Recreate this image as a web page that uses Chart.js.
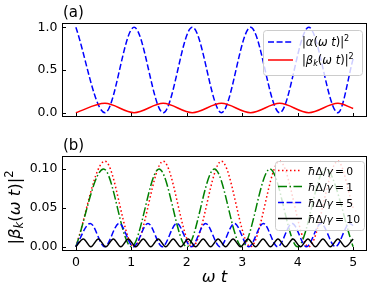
<!DOCTYPE html>
<html>
<head>
<meta charset="utf-8">
<script src="https://cdn.jsdelivr.net/npm/chart.js@4"></script>
<style>
  html, body { margin: 0; padding: 0; background: #fff; }
  #wrap { position: relative; width: 374px; height: 293px; }
  #c1 { position: absolute; left: 0; top: 0; }
  #c2 { position: absolute; left: 0; top: 130px; }
</style>
</head>
<body>
<div id="wrap">
  <canvas id="c1" width="374" height="130"></canvas>
  <canvas id="c2" width="374" height="163"></canvas>
</div>
<script>
// panel (a): |alpha|^2 and |beta_k|^2, read at the extrema
const tA = [0, 0.525, 1.05, 1.575, 2.1, 2.625, 3.15, 3.675, 4.2, 4.725, 5];
const alphaSq = [1, 0, 1, 0, 1, 0, 1, 0, 1, 0, 0.63];
const betaSq = [0, 0.11, 0, 0.11, 0, 0.11, 0, 0.11, 0, 0.11, 0.05];

// panel (b): |beta_k|^2 for hbar*Delta/gamma = 0, 1, 5, 10
const tD0 = [0, 0.525, 1.05, 1.575, 2.1, 2.625, 3.15, 3.675, 4.2, 4.725, 5];
const bD0 = [0, 0.11, 0, 0.11, 0, 0.11, 0, 0.11, 0, 0.11, 0.05];
const tD1 = [0, 0.5, 1, 1.5, 2, 2.5, 3, 3.5, 4, 4.5, 5];
const bD1 = [0, 0.1, 0, 0.1, 0, 0.1, 0, 0.1, 0, 0.1, 0];
const tD5 = [0, 0.26, 0.52, 0.78, 1.04, 1.3, 1.56, 1.82, 2.08, 2.34, 2.6, 2.86, 3.12, 3.38, 3.64, 3.9, 4.16, 4.42, 4.68, 4.94, 5];
const bD5 = [0, 0.03, 0, 0.03, 0, 0.03, 0, 0.03, 0, 0.03, 0, 0.03, 0, 0.03, 0, 0.03, 0, 0.03, 0, 0.03, 0.027];
const tD10 = [0, 0.135, 0.27, 0.405, 0.54, 0.675, 0.81, 0.945, 1.08, 1.215, 1.35, 1.485, 1.62, 1.755, 1.89, 2.025,
  2.16, 2.295, 2.43, 2.565, 2.7, 2.835, 2.97, 3.105, 3.24, 3.375, 3.51, 3.645, 3.78, 3.915, 4.05, 4.185,
  4.32, 4.455, 4.59, 4.725, 4.86, 5];
const bD10 = [0, 0.01, 0, 0.01, 0, 0.01, 0, 0.01, 0, 0.01, 0, 0.01, 0, 0.01, 0, 0.01,
  0, 0.01, 0, 0.01, 0, 0.01, 0, 0.01, 0, 0.01, 0, 0.01, 0, 0.01, 0, 0.01,
  0, 0.01, 0, 0.01, 0, 0.01];

const xTicks = [0, 1, 2, 3, 4, 5];
const yTicksA = [0, 0.5, 1.0];
const yTicksB = [0, 0.05, 0.10];

const FONT = '"DejaVu Sans"';

function pts(ts, ys) {
  return ts.map((t, i) => ({ x: t, y: ys[i] }));
}

// small helper to write matplotlib-like mathtext: [text, style]
function mathText(ctx, parts, x, y, size, align) {
  const fontOf = p => {
    const small = p[1] === 'sup' || p[1] === 'sub';
    const it = (p[1] === 'i' || p[1] === 'sub') ? 'italic ' : '';
    return it + (small ? size * 0.7 : size) + 'px ' + FONT;
  };
  let w = 0;
  parts.forEach(p => { ctx.font = fontOf(p); w += ctx.measureText(p[0]).width; });
  let cx = align === 'center' ? x - w / 2 : (align === 'right' ? x - w : x);
  ctx.textAlign = 'left';
  ctx.textBaseline = 'alphabetic';
  parts.forEach(p => {
    ctx.font = fontOf(p);
    const dy = p[1] === 'sup' ? -size * 0.42 : (p[1] === 'sub' ? size * 0.2 : 0);
    ctx.fillText(p[0], cx, y + dy);
    cx += ctx.measureText(p[0]).width;
  });
}

const labAlpha = [['|', 'n'], ['α', 'i'], ['(', 'n'], ['ω', 'i'], [' ', 'n'], ['t', 'i'], [')', 'n'], ['|', 'n'], ['2', 'sup']];
const labBeta = [['|', 'n'], ['β', 'i'], ['k', 'sub'], ['(', 'n'], ['ω', 'i'], [' ', 'n'], ['t', 'i'], [')', 'n'], ['|', 'n'], ['2', 'sup']];
const labDelta = v => [['ħ', 'i'], ['Δ', 'n'], ['/', 'n'], ['γ', 'i'], ['\u2009=\u2009', 'n'], [v, 'n']];

const framePlugin = {
  id: 'frame',
  afterDatasetsDraw(chart, args, opts) {
    const { ctx, chartArea: a, scales: { x, y } } = chart;
    ctx.save();
    ctx.strokeStyle = '#000';
    ctx.lineWidth = 1;
    ctx.setLineDash([]);
    ctx.strokeRect(a.left + 0.5, a.top + 0.5, a.right - a.left - 1, a.bottom - a.top - 1);
    ctx.beginPath();
    xTicks.forEach(v => {
      const px = Math.round(x.getPixelForValue(v)) + 0.5;
      ctx.moveTo(px, a.bottom); ctx.lineTo(px, a.bottom - 4);
    });
    opts.yTicks.forEach(v => {
      const py = Math.round(y.getPixelForValue(v)) + 0.5;
      ctx.moveTo(a.left, py); ctx.lineTo(a.left + 4, py);
    });
    ctx.stroke();

    // panel letter
    ctx.fillStyle = '#000';
    ctx.font = '15px ' + FONT;
    ctx.textAlign = 'left';
    ctx.textBaseline = 'alphabetic';
    ctx.fillText(opts.panel, a.left + 1, a.top - 6);

    // legend
    const L = opts.legend;
    ctx.beginPath();
    ctx.roundRect(L.x + 0.5, L.y + 0.5, L.w, L.h, 3);
    ctx.fillStyle = 'rgba(255,255,255,0.8)';
    ctx.fill();
    ctx.strokeStyle = '#cccccc';
    ctx.stroke();
    L.items.forEach((it, i) => {
      const ds = chart.data.datasets[it.ds];
      const ry = L.y + L.row0 + i * L.step;
      ctx.beginPath();
      ctx.strokeStyle = ds.borderColor;
      ctx.lineWidth = ds.borderWidth;
      ctx.setLineDash(ds.borderDash || []);
      ctx.moveTo(L.x + L.s0, ry); ctx.lineTo(L.x + L.s1, ry);
      ctx.stroke();
      ctx.setLineDash([]);
      ctx.fillStyle = '#000';
      mathText(ctx, it.label, L.x + L.tx, ry + 4, L.fs, 'left');
    });

    // axis titles (bottom panel only)
    if (opts.titles) {
      ctx.fillStyle = '#000';
      mathText(ctx, [['ω', 'i'], [' ', 'n'], ['t', 'i']], (a.left + a.right) / 2, 152, 16.5, 'center');
      ctx.save();
      ctx.translate(14, (a.top + a.bottom) / 2 + 4);
      ctx.rotate(-Math.PI / 2);
      mathText(ctx, labBeta, 0, 6, 16.5, 'center');
      ctx.restore();
    }
    ctx.restore();
  }
};

function lineSet(ts, ys, color, dash, order) {
  return {
    data: pts(ts, ys),
    borderColor: color,
    borderWidth: 1.5,
    borderDash: dash,
    borderCapStyle: 'butt',
    pointRadius: 0,
    fill: false,
    cubicInterpolationMode: 'monotone',
    order: order
  };
}

function yScale(ticks, min, max, digits) {
  return {
    type: 'linear', min: min, max: max,
    afterBuildTicks: s => { s.ticks = ticks.map(v => ({ value: v })); },
    afterFit: s => { s.width = 62; },
    grid: { display: false, drawTicks: false },
    border: { display: false },
    ticks: {
      padding: 4.5, color: '#000',
      font: { family: 'DejaVu Sans', size: 12.5 },
      callback: v => Number(v).toFixed(digits)
    }
  };
}

new Chart(document.getElementById('c1'), {
  type: 'line',
  data: {
    datasets: [
      lineSet(tA, alphaSq, '#0000ff', [6, 2.6], 2),
      lineSet(tA, betaSq, '#ff0000', [], 1)
    ]
  },
  options: {
    responsive: false,
    animation: false,
    layout: { padding: { left: 0, right: 7, top: 23, bottom: 13 } },
    plugins: {
      legend: { display: false },
      tooltip: { enabled: false },
      frame: {
        panel: '(a)', yTicks: yTicksA,
        legend: {
          x: 263, y: 30, w: 99, h: 45, row0: 12, step: 18, s0: 5, s1: 30, tx: 39, fs: 11.5,
          items: [{ ds: 0, label: labAlpha }, { ds: 1, label: labBeta }]
        }
      }
    },
    scales: {
      x: { type: 'linear', min: -0.25, max: 5.25, display: false },
      y: yScale(yTicksA, -0.05, 1.05, 1)
    }
  },
  plugins: [framePlugin]
});

new Chart(document.getElementById('c2'), {
  type: 'line',
  data: {
    datasets: [
      lineSet(tD0, bD0, '#ff0000', [1.5, 2.5], 4),
      lineSet(tD1, bD1, '#008000', [9, 2.5, 1.5, 2.5], 3),
      lineSet(tD5, bD5, '#0000ff', [6, 2.6], 2),
      lineSet(tD10, bD10, '#000000', [], 1)
    ]
  },
  options: {
    responsive: false,
    animation: false,
    layout: { padding: { left: 0, right: 7, top: 26, bottom: 0 } },
    plugins: {
      legend: { display: false },
      tooltip: { enabled: false },
      frame: {
        panel: '(b)', yTicks: yTicksB, titles: true,
        legend: {
          x: 275, y: 31, w: 89, h: 69, row0: 9.5, step: 16, s0: 3, s1: 27, tx: 33, fs: 10.8,
          items: [
            { ds: 0, label: labDelta('0') }, { ds: 1, label: labDelta('1') },
            { ds: 2, label: labDelta('5') }, { ds: 3, label: labDelta('10') }
          ]
        }
      }
    },
    scales: {
      x: {
        type: 'linear', min: -0.25, max: 5.25,
        afterBuildTicks: s => { s.ticks = xTicks.map(v => ({ value: v })); },
        afterFit: s => { s.height = 42; },
        grid: { display: false, drawTicks: false },
        border: { display: false },
        ticks: { padding: 4, color: '#000', maxRotation: 0, font: { family: 'DejaVu Sans', size: 12.5 } }
      },
      y: yScale(yTicksB, -0.0055, 0.1166, 2)
    }
  },
  plugins: [framePlugin]
});
</script>
</body>
</html>
